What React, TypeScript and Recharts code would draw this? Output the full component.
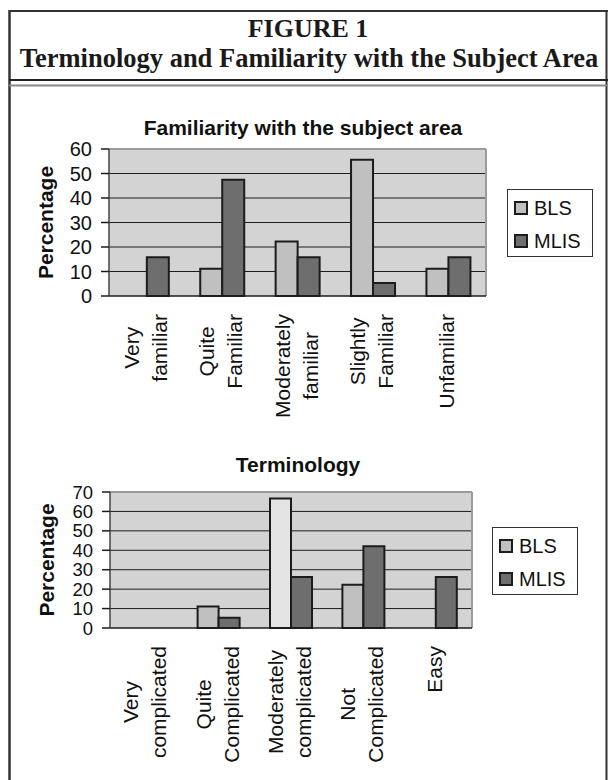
import { BarChart, Bar, XAxis, YAxis, CartesianGrid, Legend, Cell } from 'recharts'

// Familiarity with the subject area (percent of respondents)
const FAM_CATEGORIES = ['Very familiar', 'Quite Familiar', 'Moderately familiar', 'Slightly Familiar', 'Unfamiliar']
const FAM_BLS = [0, 11.1, 22.2, 55.6, 11.1]
const FAM_MLIS = [15.8, 47.4, 15.8, 5.3, 15.8]
const FAM_TICKS = [0, 10, 20, 30, 40, 50, 60]

// Terminology
const TERM_CATEGORIES = ['Very complicated', 'Quite Complicated', 'Moderately complicated', 'Not Complicated', 'Easy']
const TERM_BLS = [0, 11.1, 66.7, 22.2, 0]
const TERM_MLIS = [0, 5.3, 26.3, 42.1, 26.3]
const TERM_TICKS = [0, 10, 20, 30, 40, 50, 60, 70]

const SANS = '"Liberation Sans", Arial, Helvetica, sans-serif'
const SERIF = '"Liberation Serif", "Times New Roman", serif'
const BLS_FILL = '#c0c0c0'
const BLS_PALE = '#e4e4e4'
const MLIS_FILL = '#6e6e6e'
const PLOT_BG = '#d3d3d3'
const INK = '#1c1c1c'
const EDGE_GRAY = '#9b9b9b'
const LABEL_SIZE = 21
const LINE_STEP = 28

let measureCtx: CanvasRenderingContext2D | null = null
function measure(text: string) {
  if (!measureCtx) measureCtx = document.createElement('canvas').getContext('2d')
  if (!measureCtx) return text.length * LABEL_SIZE * 0.5
  measureCtx.font = `${LABEL_SIZE}px ${SANS}`
  return measureCtx.measureText(text).width
}

// rotated, word-per-line labels; block hangs 17px below the axis, lines centred on each other
function CategoryTick({ x, y, payload }: any) {
  const lines = String(payload.value).split(' ')
  const longest = Math.max(...lines.map(measure))
  const cy = y + 17 + longest / 2
  const n = lines.length
  return (
    <g transform={`translate(${x},${cy}) rotate(-90)`}>
      {lines.map((line, i) => (
        <text
          key={i}
          x={0}
          y={6 + (i - (n - 1) / 2) * LINE_STEP}
          textAnchor="middle"
          fontFamily={SANS}
          fontSize={LABEL_SIZE}
          fill="#111"
        >
          {line}
        </text>
      ))}
    </g>
  )
}

function PercentLabel({ viewBox }: any) {
  const cx = viewBox.x + 16
  const cy = viewBox.y + viewBox.height / 2
  return (
    <text
      x={cx}
      y={cy}
      transform={`rotate(-90, ${cx}, ${cy})`}
      textAnchor="middle"
      dominantBaseline="central"
      fontFamily={SANS}
      fontWeight="bold"
      fontSize={21}
      fill="#111"
    >
      Percentage
    </text>
  )
}

function BoxLegend({ payload }: any) {
  return (
    <div
      style={{
        width: 86,
        height: 68,
        boxSizing: 'border-box',
        border: '1px solid #333',
        background: '#fff',
        paddingTop: 1,
      }}
    >
      {(payload ?? []).map((item: any) => (
        <div key={item.value} style={{ display: 'flex', alignItems: 'center', height: 33 }}>
          <span
            style={{
              width: 10,
              height: 10,
              border: `2px solid ${INK}`,
              background: item.color,
              marginLeft: 6,
              marginRight: 6,
            }}
          />
          <span style={{ fontFamily: SANS, fontSize: 20, color: '#111', lineHeight: 1 }}>{item.value}</span>
        </div>
      ))}
    </div>
  )
}

interface SurveyChartProps {
  categories: string[]
  bls: number[]
  mlis: number[]
  ticks: number[]
  height: number
  margin: { top: number; right: number; bottom: number; left: number }
  labelHeight: number
  tickFont: number
  legendAt: { left: number; top: number }
  paleIndex?: number
}

function SurveyChart({
  categories,
  bls,
  mlis,
  ticks,
  height,
  margin,
  labelHeight,
  tickFont,
  legendAt,
  paleIndex,
}: SurveyChartProps) {
  const data = categories.map((name, i) => ({ name, BLS: bls[i], MLIS: mlis[i] }))
  const top = ticks[ticks.length - 1]
  const edges = Array.from({ length: categories.length + 1 }, (_, i) => i)

  return (
    <BarChart width={608} height={height} data={data} margin={margin} barCategoryGap="21%" barGap={0}>
      <CartesianGrid
        horizontalValues={ticks.slice(1, -1)}
        vertical={false}
        stroke={INK}
        strokeDasharray=""
        fill={PLOT_BG}
        fillOpacity={1}
      />
      <CartesianGrid
        horizontalValues={[top]}
        verticalCoordinatesGenerator={({ offset }: any) => [offset.left + offset.width]}
        stroke={EDGE_GRAY}
        strokeWidth={2}
      />
      {/* numeric axis (id 0, stacked first) only draws the base line and the ticks between categories */}
      <XAxis
        type="number"
        domain={[0, categories.length]}
        ticks={edges}
        interval={0}
        allowDataOverflow
        tick={false}
        tickSize={6}
        height={1}
        axisLine={{ stroke: INK, strokeWidth: 1.5 }}
        tickLine={{ stroke: INK, strokeWidth: 1.5 }}
      />
      <XAxis
        xAxisId="cat"
        dataKey="name"
        interval={0}
        axisLine={false}
        tickLine={false}
        tickSize={0}
        tickMargin={0}
        height={labelHeight}
        tick={<CategoryTick />}
      />
      <YAxis
        width={80}
        domain={[0, top]}
        ticks={ticks}
        interval={0}
        tickSize={8}
        tickMargin={9}
        axisLine={{ stroke: '#444', strokeWidth: 1.5 }}
        tickLine={{ stroke: INK, strokeWidth: 1.5 }}
        tick={{ fill: '#111', fontSize: tickFont, fontFamily: SANS }}
        label={<PercentLabel />}
      />
      <Legend
        layout="horizontal"
        align="center"
        verticalAlign="middle"
        content={<BoxLegend />}
        wrapperStyle={{ left: legendAt.left, top: legendAt.top, width: 86, height: 68 }}
      />
      <Bar xAxisId="cat" dataKey="BLS" name="BLS" fill={BLS_FILL} stroke={INK} strokeWidth={2} isAnimationActive={false}>
        {data.map((_, i) => (
          <Cell key={i} fill={i === paleIndex ? BLS_PALE : BLS_FILL} />
        ))}
      </Bar>
      <Bar xAxisId="cat" dataKey="MLIS" name="MLIS" fill={MLIS_FILL} stroke={INK} strokeWidth={2} isAnimationActive={false} />
    </BarChart>
  )
}

export default function App() {
  return (
    <div
      style={{ position: 'absolute', left: 0, top: 0, width: 608, height: 780, background: '#fff', overflow: 'hidden' }}
    >
      <svg width={608} height={780} style={{ position: 'absolute', left: 0, top: 0 }}>
        <line x1={9.5} y1={10} x2={9.5} y2={780} stroke="#333" strokeWidth={2.5} />
        <line x1={9} y1={11} x2={608} y2={11} stroke="#333" strokeWidth={2} />
        <line x1={606.5} y1={10} x2={606.5} y2={780} stroke="#333" strokeWidth={2} />
        <line x1={9} y1={80} x2={608} y2={80} stroke="#222" strokeWidth={2} />
        <line x1={9} y1={85.5} x2={608} y2={85.5} stroke="#888" strokeWidth={2} />
        <text x={308} y={37} textAnchor="middle" fontFamily={SERIF} fontWeight="bold" fontSize={26} fill="#1a1a1a">
          FIGURE 1
        </text>
        <text x={309} y={66.8} textAnchor="middle" fontFamily={SERIF} fontWeight="bold" fontSize={26.5} fill="#1a1a1a">
          Terminology and Familiarity with the Subject Area
        </text>
        <text x={303} y={135} textAnchor="middle" fontFamily={SANS} fontWeight="bold" fontSize={21} fill="#111">
          Familiarity with the subject area
        </text>
        <text x={298} y={472} textAnchor="middle" fontFamily={SANS} fontWeight="bold" fontSize={21} fill="#111">
          Terminology
        </text>
      </svg>

      <div style={{ position: 'absolute', left: 0, top: 100 }}>
        <SurveyChart
          categories={FAM_CATEGORIES}
          bls={FAM_BLS}
          mlis={FAM_MLIS}
          ticks={FAM_TICKS}
          height={340}
          margin={{ top: 49, right: 122, bottom: 9, left: 29 }}
          labelHeight={134}
          tickFont={20}
          legendAt={{ left: 507, top: 89 }}
        />
      </div>

      <div style={{ position: 'absolute', left: 0, top: 440 }}>
        <SurveyChart
          categories={TERM_CATEGORIES}
          bls={TERM_BLS}
          mlis={TERM_MLIS}
          ticks={TERM_TICKS}
          height={340}
          margin={{ top: 52, right: 136, bottom: 7, left: 30 }}
          labelHeight={144}
          tickFont={18.5}
          legendAt={{ left: 492, top: 87 }}
          paleIndex={2}
        />
      </div>
    </div>
  )
}
